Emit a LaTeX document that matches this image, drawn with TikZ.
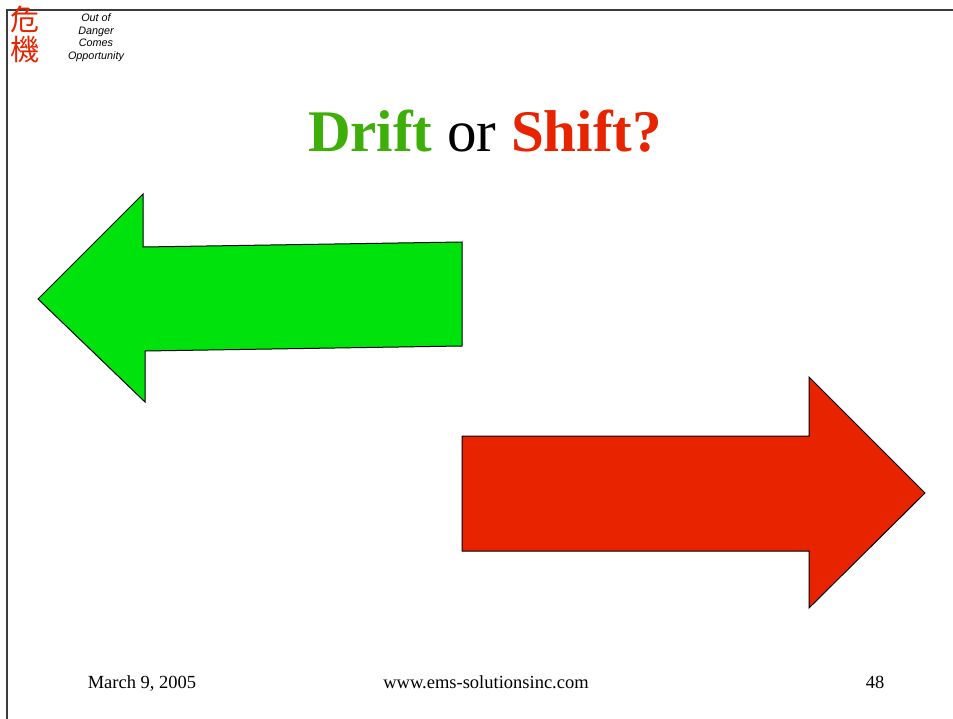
\documentclass[tikz,border=0pt]{standalone}
\usepackage{fontspec}
\setmainfont{Liberation Serif}
\newfontfamily\logosans{Liberation Sans}
\newfontfamily\cjk{Noto Sans CJK JP}
\definecolor{driftgreen}{RGB}{0,226,12}
\definecolor{shiftred}{RGB}{232,36,0}
\definecolor{titlegreen}{RGB}{62,174,8}
\definecolor{framegray}{RGB}{60,60,60}
\tikzset{
  arrowshape/.style={draw=black, line width=1pt, line join=miter},
  footer/.style={inner sep=0pt, anchor=base, font=\fontsize{18.5}{18.5}\selectfont},
  logoline/.style={inner sep=0pt, anchor=base, font=\logosans\itshape\fontsize{10.8}{10.8}\selectfont},
  kanjichar/.style={inner sep=0pt, text=shiftred, font=\cjk\fontsize{29}{29}\selectfont}
}
\begin{document}
\begin{tikzpicture}[x=1pt,y=-1pt]
  \useasboundingbox[fill=white] (0,0) rectangle (953,719);
  % slide frame: top and left edges
  \draw[framegray, line width=1.5pt] (7,719) -- (7,10) -- (953,10);
  % logo
  \node[kanjichar] (kanjiA) at (25,20) {危};
  \node[kanjichar] (kanjiB) at (25,50) {機};
  \node[logoline] (l1) at (96,22) {Out of};
  \node[logoline] (l2) at (96,35) {Danger};
  \node[logoline] (l3) at (96,47) {Comes};
  \node[logoline] (l4) at (96,60) {Opportunity};
  % title
  \node[inner sep=0pt, anchor=base, font=\bfseries\fontsize{59}{59}\selectfont] (title) at (485,152)
    {\textcolor{titlegreen}{Drift} \textcolor{black}{\mdseries or} \textcolor{shiftred}{Shift?}};
  % left (green) arrow
  \fill[driftgreen] (38,299) -- (143,194) -- (143,247) -- (462,242) -- (462,346) -- (145,351) -- (145,402) -- cycle;
  \draw[arrowshape] (38,299) -- (143,194) -- (143,247) -- (462,242) -- (462,346) -- (145,351) -- (145,402) -- cycle;
  % right (red) arrow
  \fill[shiftred] (462,436) -- (809,436) -- (809,377) -- (925,493) -- (809,608) -- (809,551) -- (462,551) -- cycle;
  \draw[arrowshape] (462,436) -- (809,436) -- (809,377) -- (925,493) -- (809,608) -- (809,551) -- (462,551) -- cycle;
  % footer
  \node[footer] (date) at (142,688) {March 9, 2005};
  \node[footer] (url) at (486,688) {www.ems-solutionsinc.com};
  \node[footer] (page) at (875,688) {48};
\end{tikzpicture}
\end{document}
